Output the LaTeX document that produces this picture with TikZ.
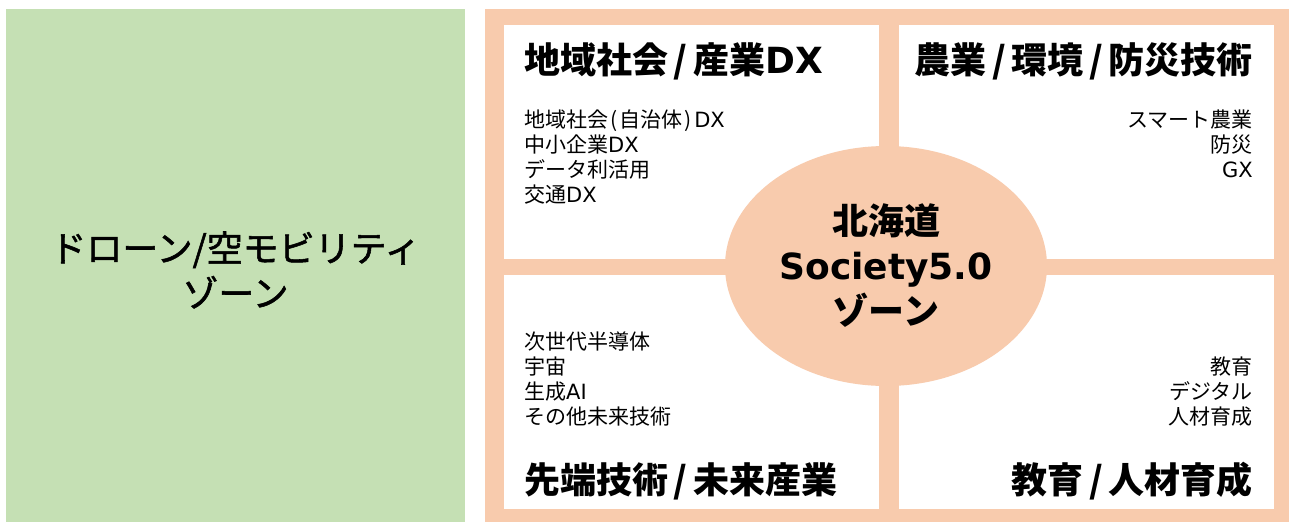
\documentclass[tikz,border=0pt]{standalone}
\usepackage{fontspec}
\setmainfont{Noto Sans CJK JP}
\newfontfamily\latfont{DejaVu Sans}
\newfontfamily\zonefont[FakeBold=1.5]{Noto Sans CJK JP}
\newcommand{\lat}[1]{{\latfont #1}}
\newcommand{\sep}{\makebox[0.7em]{/}}
\newcommand{\pbox}[1]{\makebox[0.55em]{#1}}
\usepackage{tikz}
\usetikzlibrary{shapes.geometric, positioning}
\definecolor{zonegreen}{HTML}{C5E0B4}
\definecolor{zoneorange}{HTML}{F8CBAD}
\tikzset{
  panel/.style={fill=white, draw=none, inner sep=0pt, minimum width=375pt, minimum height=234pt},
  heading/.style={font=\fontsize{36}{40}\selectfont\bfseries, inner sep=0pt},
  itemlist/.style={font=\fontsize{21}{25}\selectfont, inner sep=0pt},
  hub/.style={ellipse, fill=zoneorange, inner sep=0pt, minimum width=322pt, minimum height=240pt, align=center, font=\fontsize{36}{45}\selectfont\bfseries}
}

\begin{document}
\begin{tikzpicture}[x=1pt, y=-1pt]
  \fill[white] (0,0) rectangle (1297,523);
  \useasboundingbox (0,0) rectangle (1297,523);

  % drone zone
  \fill[zonegreen] (6,9) rectangle (465,522);
  \node[font=\fontsize{36}{45}\selectfont\zonefont, align=center, inner sep=0pt] (drone) at (235.5,270) {ドローン/空モビリティ\\ゾーン};

  % society 5.0 zone
  \fill[zoneorange] (485,9) rectangle (1289,522);
  \node[panel, anchor=north west] (tl) at (504,25) {};
  \node[panel, anchor=north east] (tr) at (1274,25) {};
  \node[panel, anchor=south west] (bl) at (504,509) {};
  \node[panel, anchor=south east] (br) at (1274,509) {};

  \node[hub] (center) at (886,266) {北海道\\\lat{Society5.0}\\ゾーン};

  \node[heading, anchor=west] (tl-title) at ([xshift=20pt, yshift=-36pt]tl.north west) {地域社会\sep 産業\lat{DX}};
  \node[itemlist, anchor=north west, align=left] (tl-list) at ([xshift=20pt, yshift=-85pt]tl.north west) {地域社会\pbox{(}自治体\pbox{)}\lat{DX}\\中小企業\lat{DX}\\データ利活用\\交通\lat{DX}};

  \node[heading, anchor=east] (tr-title) at ([xshift=-21pt, yshift=-36pt]tr.north east) {農業\sep 環境\sep 防災技術};
  \node[itemlist, anchor=north east, align=right] (tr-list) at ([xshift=-21pt, yshift=-85pt]tr.north east) {スマート農業\\防災\\\lat{GX}};

  \node[itemlist, anchor=north west, align=left] (bl-list) at ([xshift=20pt, yshift=-57pt]bl.north west) {次世代半導体\\宇宙\\生成\lat{AI}\\その他未来技術};
  \node[heading, anchor=west] (bl-title) at ([xshift=20pt, yshift=28pt]bl.south west) {先端技術\sep 未来産業};

  \node[itemlist, anchor=north east, align=right] (br-list) at ([xshift=-21pt, yshift=-82pt]br.north east) {教育\\デジタル\\人材育成};
  \node[heading, anchor=east] (br-title) at ([xshift=-21pt, yshift=28pt]br.south east) {教育\sep 人材育成};
\end{tikzpicture}
\end{document}
